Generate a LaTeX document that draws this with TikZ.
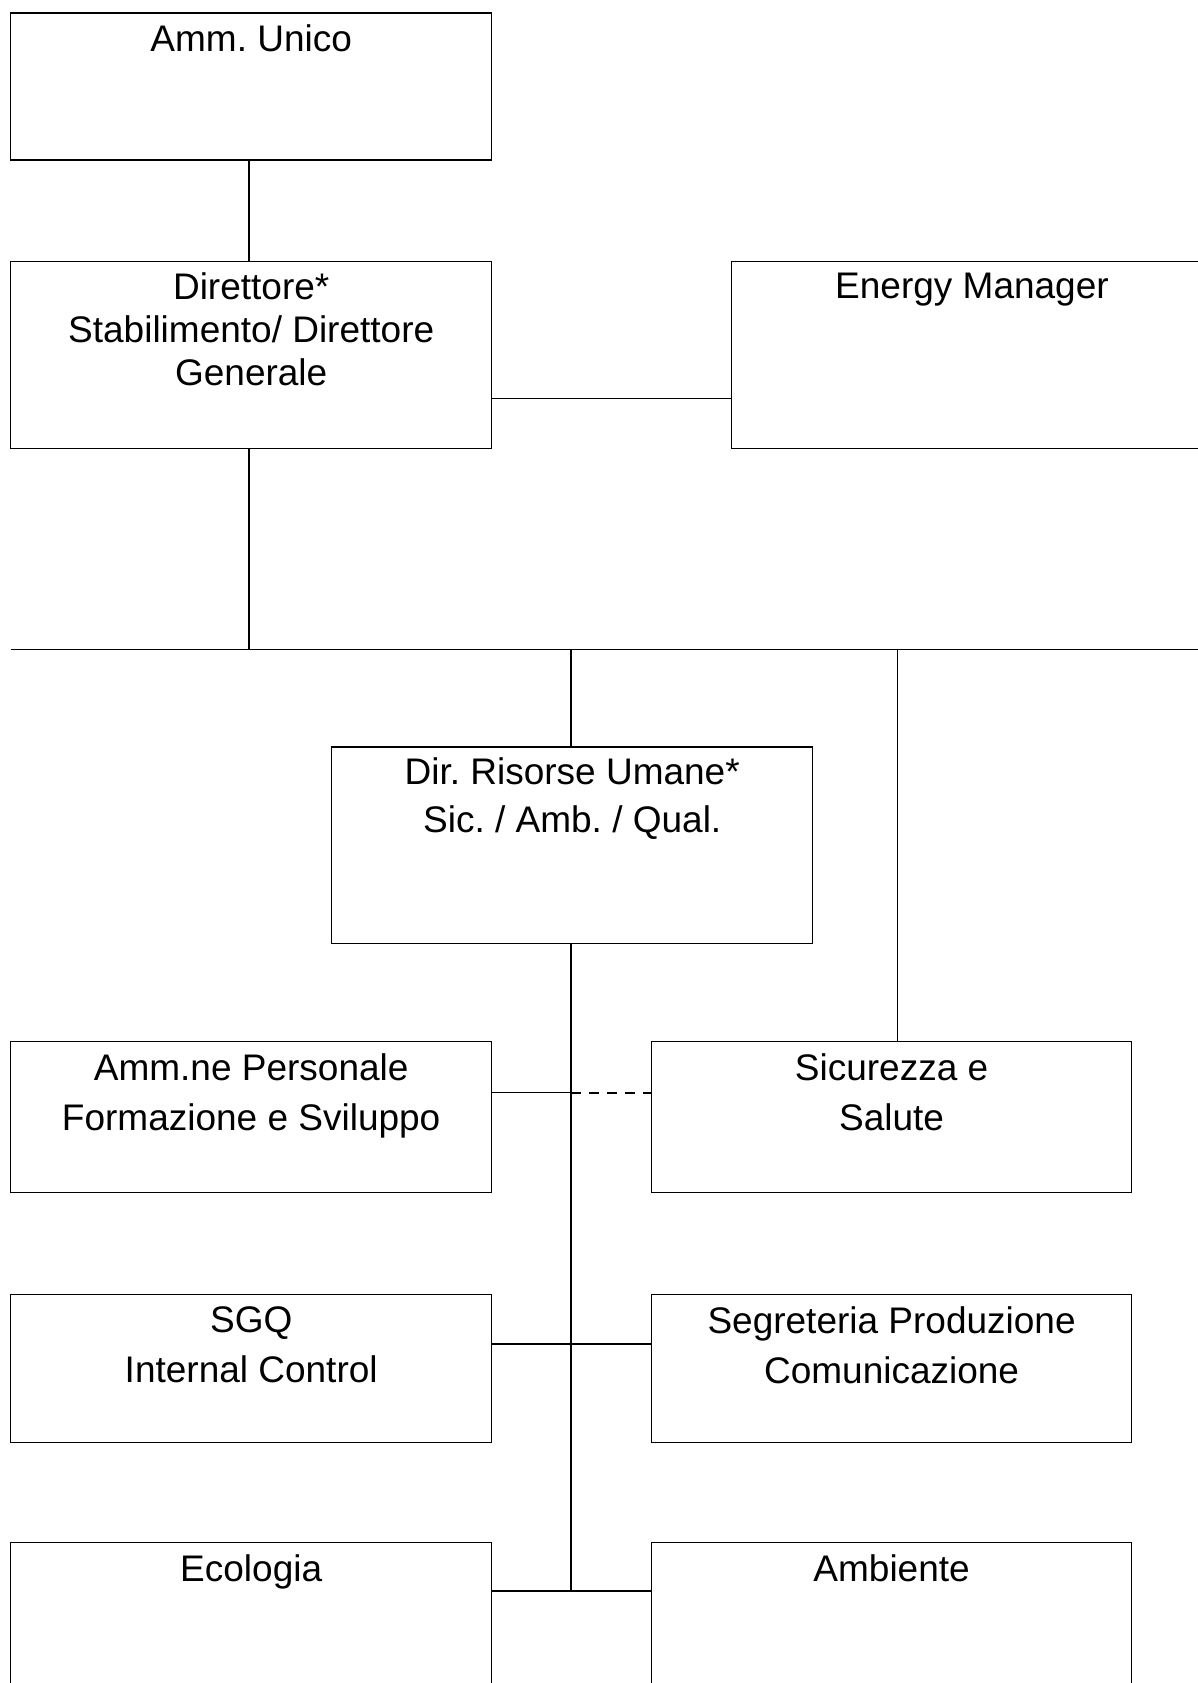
\documentclass[tikz,border=0pt]{standalone}
\usepackage{fontspec}
\setmainfont{Liberation Sans}
\frenchspacing
\begin{document}
\begin{tikzpicture}[x=1pt,y=-1pt,
  box/.style={draw, line width=1.1pt, rectangle, inner sep=0pt, minimum width=481pt},
  lbl/.style={anchor=north, inner sep=0pt, align=center, font=\fontsize{37}{43}\selectfont},
  conn/.style={line width=1.1pt},
  dconn/.style={line width=2pt, dash pattern=on 10pt off 8pt}]
\useasboundingbox (0,0) rectangle (1198,1683);
% boxes
\node[box, minimum height=147pt] (au) at (251.2,86.5) {};
\node[box, minimum height=187.7pt] (dir) at (251.2,354.9) {};
\node[box, minimum height=187.7pt] (em) at (972,354.9) {};
\node[box, minimum height=196.6pt] (hr) at (572.2,845.3) {};
\node[box, minimum height=151.7pt] (amp) at (251.2,1116.9) {};
\node[box, minimum height=151.7pt, minimum width=480pt] (sic) at (891.6,1116.9) {};
\node[box, minimum height=148.2pt] (sgq) at (251.2,1368.7) {};
\node[box, minimum height=148.2pt, minimum width=480pt] (seg) at (891.6,1368.7) {};
\node[box, minimum height=160pt] (eco) at (251.2,1622.6) {};
\node[box, minimum height=160pt, minimum width=480pt] (amb) at (891.6,1622.6) {};
% labels
\node[lbl] (au-t) at ([yshift=-12pt]au.north) {Amm. Unico};
\node[lbl] (dir-t) at ([yshift=-12pt]dir.north) {Direttore*\\Stabilimento/ Direttore\\Generale};
\node[lbl] (em-t) at ([yshift=-12pt]em.north) {Energy Manager};
\node[lbl] (hr-t) at ([yshift=-11pt]hr.north) {Dir. Risorse Umane*\\[5pt]Sic. / Amb. / Qual.};
\node[lbl] (amp-t) at ([yshift=-13pt]amp.north) {Amm.ne Personale\\[7pt]Formazione e Sviluppo};
\node[lbl] (sic-t) at ([yshift=-13pt]sic.north) {Sicurezza e\\[7pt]Salute};
\node[lbl] (sgq-t) at ([yshift=-12pt]sgq.north) {SGQ\\[7pt]Internal Control};
\node[lbl] (seg-t) at ([yshift=-12pt]seg.north) {Segreteria Produzione\\[7pt]Comunicazione};
\node[lbl] (eco-t) at ([yshift=-12pt]eco.north) {Ecologia};
\node[lbl] (amb-t) at ([yshift=-12pt]amb.north) {Ambiente};
% coordinates
\coordinate (busL) at (10.7,649.5);
\coordinate (busR) at (1198,649.5);
\coordinate (busD) at (249,649.5);
\coordinate (spineEnd) at (571,1591);
% connectors
\draw[conn] (au.south -| busD) -- (dir.north -| busD);
\draw[conn] (dir.east |- 0,398.3) -- (em.west |- 0,398.3);
\draw[conn] (dir.south -| busD) -- (busD);
\draw[conn] (busL) -- (busR);
\draw[conn] (hr.north -| 571,0) -- (busL -| 571,0);
\draw[conn] (sic.north -| 897.5,0) -- (busL -| 897.5,0);
\draw[conn] (hr.south -| 571,0) -- (spineEnd);
\draw[conn] (amp.east |- 0,1092.8) -- (571,1092.8);
\draw[dconn] (571,1092.8) -- (sic.west |- 0,1092.8);
\draw[conn] (sgq.east |- 0,1344) -- (seg.west |- 0,1344);
\draw[conn] (eco.east |- spineEnd) -- (amb.west |- spineEnd);
\end{tikzpicture}
\end{document}
